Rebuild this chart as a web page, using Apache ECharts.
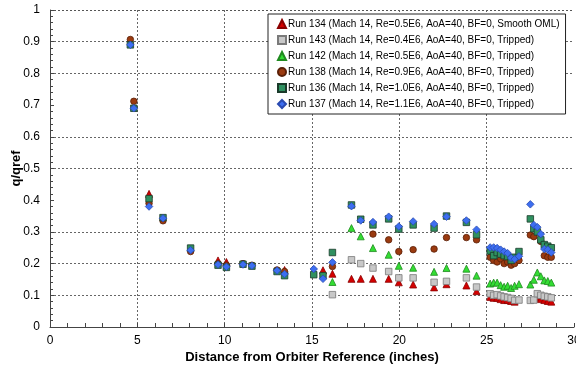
<!DOCTYPE html>
<html lang="en">
<head>
    <meta charset="UTF-8">
    <title>q/qref vs distance</title>
    <script src="https://cdn.jsdelivr.net/npm/echarts@6/dist/echarts.min.js"></script>
    <style>
        html, body { margin: 0; padding: 0; background: #fff; }
        #chart { width: 576px; height: 371px; }
    </style>
</head>
<body>
    <div id="chart"></div>
    <script>
        // x positions (inches) shared by all runs
        const xPos = [4.6, 4.8, 5.67, 6.47, 8.05, 9.62, 10.1, 11.05, 11.56, 13.0, 13.43, 15.1, 15.63, 16.17,
            17.26, 17.79, 18.49, 19.39, 19.97, 20.79, 21.99, 22.7, 23.84, 24.42,
            25.2, 25.4, 25.6, 25.8, 26.0, 26.2, 26.4, 26.6, 26.85, 27.5, 27.7, 27.9, 28.1, 28.3, 28.5, 28.7];

        const run134 = [null, null, 0.42, null, null, 0.21, 0.205, null, null, null, 0.18, null, 0.179, 0.168,
            0.152, 0.152, 0.152, 0.152, 0.141, 0.134, 0.125, 0.135, 0.131, 0.113,
            0.095, 0.092, 0.092, 0.088, 0.085, 0.085, 0.082, 0.08, null, null, null, 0.092, 0.088, 0.085, 0.082, 0.08];
        const run143 = [null, null, null, null, null, null, null, null, null, null, null, null, null, 0.102,
            0.212, 0.2, 0.186, 0.175, 0.155, 0.155, 0.141, 0.144, 0.155, 0.126,
            0.105, 0.1, 0.102, 0.098, 0.095, 0.093, 0.09, 0.084, 0.085, 0.084, 0.085, 0.105, 0.1, 0.097, 0.095, 0.092];
        const run142 = [null, null, null, null, null, null, null, null, null, null, null, null, null, 0.142,
            0.312, 0.286, 0.249, 0.228, 0.193, 0.187, 0.174, 0.186, 0.184, 0.162,
            0.137, 0.14, 0.14, 0.132, 0.127, 0.13, 0.123, 0.13, 0.135, 0.134, 0.149, 0.172, 0.16, 0.147, 0.145, 0.14];
        const run138 = [0.907, 0.712, 0.39, 0.335, 0.238, 0.2, 0.195, 0.2, 0.195, 0.18, 0.175, null, null, 0.191,
            null, null, 0.293, 0.275, 0.238, 0.244, 0.246, 0.282, 0.282, 0.275,
            0.22, 0.21, 0.205, 0.215, 0.2, 0.205, 0.195, 0.2, 0.21, 0.29, 0.285, 0.3, 0.27, 0.225, 0.22, 0.22];
        const run136 = [0.89, 0.69, 0.405, 0.345, 0.249, 0.195, 0.188, 0.198, 0.192, 0.175, 0.162, 0.165, 0.162, 0.235,
            0.385, 0.34, 0.322, 0.341, 0.309, 0.322, 0.312, 0.35, 0.33, 0.291,
            0.24, 0.225, 0.235, 0.23, 0.225, 0.222, 0.21, 0.22, 0.238, 0.341, 0.31, 0.3, 0.275, 0.26, 0.255, 0.25];
        const run137 = [0.89, 0.69, 0.38, 0.343, 0.242, 0.197, 0.19, 0.197, 0.193, 0.178, 0.167, 0.183, 0.152, 0.204,
            0.381, 0.336, 0.331, 0.348, 0.317, 0.333, 0.325, 0.348, 0.336, 0.307,
            0.251, 0.251, 0.249, 0.244, 0.238, 0.233, 0.218, 0.214, 0.223, 0.387, 0.322, 0.315, 0.293, 0.246, 0.244, 0.235];

        const runNames = [
            'Run 134 (Mach 14, Re=0.5E6, AoA=40, BF=0, Smooth OML)',
            'Run 143 (Mach 14, Re=0.4E6, AoA=40, BF=0, Tripped)',
            'Run 142 (Mach 14, Re=0.5E6, AoA=40, BF=0, Tripped)',
            'Run 138 (Mach 14, Re=0.9E6, AoA=40, BF=0, Tripped)',
            'Run 136 (Mach 14, Re=1.0E6, AoA=40, BF=0, Tripped)',
            'Run 137 (Mach 14, Re=1.1E6, AoA=40, BF=0, Tripped)'
        ];
        const runValues = [run134, run143, run142, run138, run136, run137];
        const symbols = ['triangle', 'rect', 'triangle', 'circle', 'rect', 'diamond'];
        const sizes = [7, 6.5, 7, 6.5, 6.5, 7.5];
        const fills = ['#d40000', '#c8c8c8', '#33dd33', '#9a3a10', '#2f9060', '#3d6ef0'];
        const strokes = ['#8a0000', '#7a7a7a', '#1f8a1f', '#5a2008', '#1a3a2a', '#2a4ab0'];

        function pairs(values){
            let out = [];
            for(let i = 0; i < xPos.length; i++){
                if(values[i] !== null) out.push([xPos[i], values[i]]);
            }
            return out;
        }

        const series = runNames.map((name, i) => ({
            name: name,
            type: 'scatter',
            symbol: symbols[i],
            symbolSize: sizes[i],
            data: pairs(runValues[i]),
            itemStyle: { color: fills[i], borderColor: strokes[i], borderWidth: 0.8, opacity: 1 }
        }));

        // no dotted line at 0.4 / 0.7 in the original
        const gridColors = ['transparent', '#666', '#666', '#666', 'transparent', '#666', '#666', 'transparent', '#666', '#666', '#555'];

        const chart = echarts.init(document.getElementById('chart'));
        chart.setOption({
            animation: false,
            textStyle: { fontFamily: 'Liberation Sans, Arial, sans-serif' },
            grid: { left: 50, right: 2, top: 10, bottom: 44, containLabel: false, outerBoundsMode: 'none' },
            legend: {
                orient: 'vertical',
                left: 268,
                top: 14,
                backgroundColor: '#fff',
                borderColor: '#222',
                borderWidth: 1,
                borderRadius: 0,
                padding: [5, 6, 5, 9],
                itemGap: 6,
                itemWidth: 8,
                itemHeight: 8,
                textStyle: { fontSize: 10, color: '#000', padding: [0, 0, 0, -3] },
                data: runNames
            },
            xAxis: {
                type: 'value',
                min: 0, max: 30, interval: 5,
                name: 'Distance from Orbiter Reference (inches)',
                nameLocation: 'middle',
                nameGap: 24,
                nameMoveOverlap: false,
                nameTextStyle: { fontSize: 13, fontWeight: 'bold', color: '#000' },
                axisLine: { lineStyle: { color: '#444' } },
                axisTick: { inside: true, length: 4, lineStyle: { color: '#444' } },
                minorTick: { show: true, splitNumber: 5, length: 4, lineStyle: { color: '#444' } },
                axisLabel: { fontSize: 12, color: '#000', margin: 8 },
                splitLine: { show: true, lineStyle: { color: ['transparent', '#666', '#666', '#666', '#666', '#666', 'transparent'], type: [2, 2], width: 1 } }
            },
            yAxis: {
                type: 'value',
                min: 0, max: 1, interval: 0.1,
                name: 'q/qref',
                nameLocation: 'middle',
                nameGap: 27,
                nameMoveOverlap: false,
                nameTextStyle: { fontSize: 13, fontWeight: 'bold', color: '#000' },
                axisLine: { show: true, lineStyle: { color: '#444' } },
                axisTick: { show: true, inside: true, length: 4, lineStyle: { color: '#444' } },
                minorTick: { show: true, splitNumber: 5, length: 3, lineStyle: { color: '#444' } },
                axisLabel: { fontSize: 12, color: '#000', margin: 10 },
                splitLine: { show: true, lineStyle: { color: gridColors, type: [2, 2], width: 1 } }
            },
            series: series
        });
    </script>
</body>
</html>
